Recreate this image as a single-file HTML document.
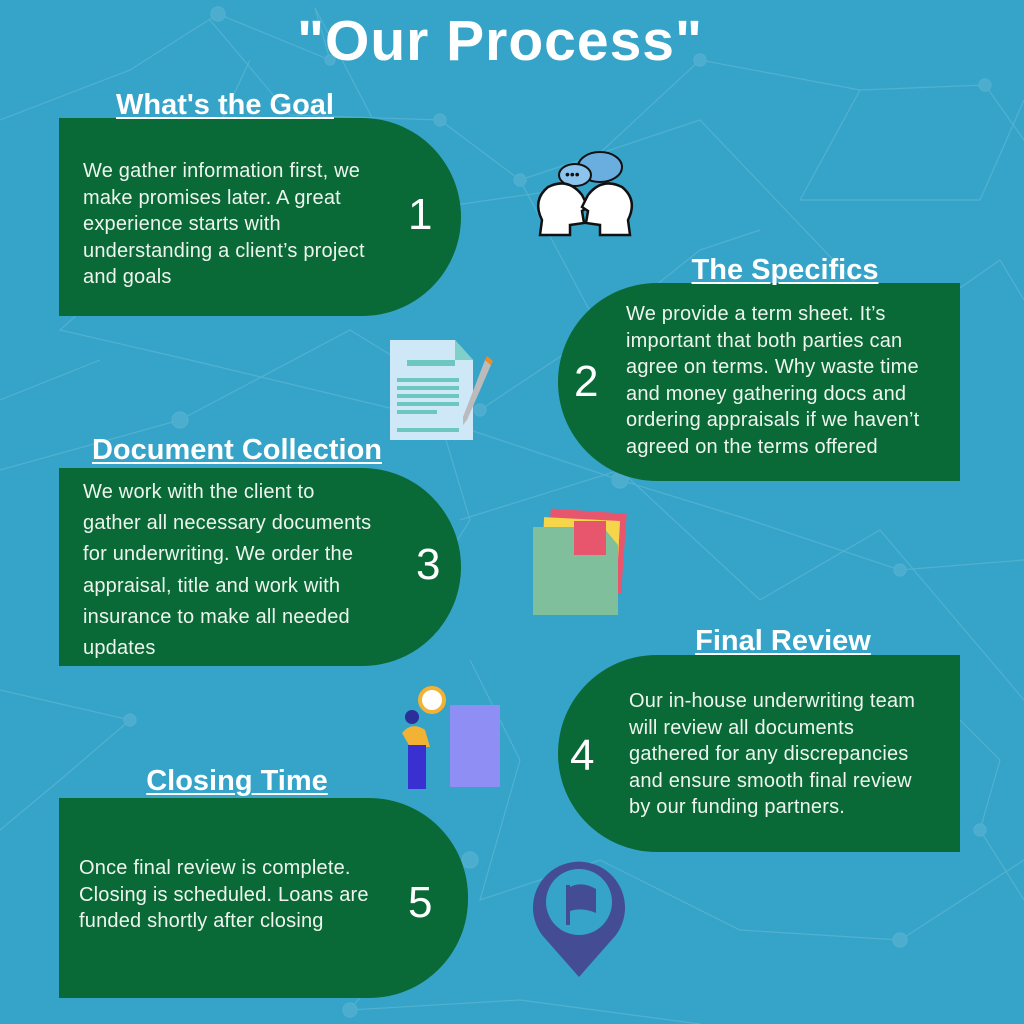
<!DOCTYPE html>
<html><head><style>
body{margin:0;width:1024px;height:1024px;overflow:hidden;background:#36a4c8;font-family:"Liberation Sans",sans-serif;position:relative}
.box{position:absolute;background:#0a6a37;color:#eef5ee;}
.l{border-radius:0 99px 99px 0}
.r{border-radius:99px 0 0 99px}
.t{position:absolute;font-size:20px;line-height:26.5px;color:#eef5ee;white-space:nowrap;letter-spacing:0.2px;z-index:2}
.n{position:absolute;font-size:44px;color:#fff;z-index:2}
.h{position:absolute;font-weight:bold;font-size:29px;color:#fff;text-decoration:underline;text-underline-offset:3px;text-decoration-thickness:2px;white-space:nowrap;transform:translateX(-50%);z-index:3}
</style></head><body>
<svg width="1024" height="1024" style="position:absolute;left:0;top:0" stroke="#7cc3dc" stroke-width="1.2" fill="#6dbbd8" opacity="0.4">
<g fill="none">
<polyline points="0,120 130,70 218,14 330,60 315,8 420,210 560,190 700,60 860,90 985,85 1024,140"/>
<polyline points="210,20 290,115 440,120 520,180 600,330 480,410 350,330 180,420 0,470"/>
<polyline points="250,60 170,230 60,330 190,360 440,420 620,480 750,520 900,570 1024,560"/>
<polyline points="520,180 700,120 900,330 1000,260 1024,300"/>
<polyline points="460,520 620,470 760,600 880,530 1024,700"/>
<polyline points="470,660 520,760 480,900 600,860 740,930 900,940 1024,860"/>
<polyline points="470,860 350,1010 520,1000 700,1024"/>
<polyline points="0,690 130,720 60,780 0,830"/>
<polyline points="960,720 1000,760 980,830 1024,900"/>
<polyline points="860,90 800,200 980,200 1024,100"/>
<polyline points="440,420 470,520 420,600"/>
<polyline points="100,360 0,400"/>
<polyline points="600,330 700,250 760,230"/>
</g>
<circle cx="218" cy="14" r="7"/><circle cx="330" cy="60" r="5"/><circle cx="440" cy="120" r="6"/><circle cx="520" cy="180" r="6"/><circle cx="600" cy="330" r="7"/><circle cx="700" cy="60" r="6"/><circle cx="985" cy="85" r="6"/><circle cx="620" cy="480" r="8"/><circle cx="900" cy="570" r="6"/><circle cx="470" cy="860" r="8"/><circle cx="350" cy="1010" r="7"/><circle cx="900" cy="940" r="7"/><circle cx="980" cy="830" r="6"/><circle cx="130" cy="720" r="6"/><circle cx="180" cy="420" r="8"/><circle cx="480" cy="410" r="6"/>
</svg>

<div style="position:absolute;left:0;width:1000px;top:8px;text-align:center;font-size:57px;font-weight:bold;color:#fff;letter-spacing:1px">"Our Process"</div>

<div class="box l" style="left:59px;top:118px;width:402px;height:198px"></div>
<div class="h" style="left:225px;top:89px">What's the Goal</div>
<div class="t" style="left:83px;top:158px">We gather information first, we<br>make promises later. A great<br>experience starts with<br>understanding a client’s project<br>and goals</div>
<div class="n" style="left:408px;top:190px">1</div>

<div class="box r" style="left:558px;top:283px;width:402px;height:198px"></div>
<div class="h" style="left:785px;top:254px">The Specifics</div>
<div class="t" style="left:626px;top:301px">We provide a term sheet. It’s<br>important that both parties can<br>agree on terms. Why waste time<br>and money gathering docs and<br>ordering appraisals if we haven’t<br>agreed on the terms offered</div>
<div class="n" style="left:574px;top:357px">2</div>

<div class="box l" style="left:59px;top:468px;width:402px;height:198px"></div>
<div class="h" style="left:237px;top:434px">Document Collection</div>
<div class="t" style="left:83px;top:477px;line-height:31.2px">We work with the client to<br>gather all necessary documents<br>for underwriting. We order the<br>appraisal, title and work with<br>insurance to make all needed<br>updates</div>
<div class="n" style="left:416px;top:540px">3</div>

<div class="box r" style="left:558px;top:655px;width:402px;height:197px"></div>
<div class="h" style="left:783px;top:625px">Final Review</div>
<div class="t" style="left:629px;top:688px">Our in-house underwriting team<br>will review all documents<br>gathered for any discrepancies<br>and ensure smooth final review<br>by our funding partners.</div>
<div class="n" style="left:570px;top:731px">4</div>

<div class="box l" style="left:59px;top:798px;width:409px;height:200px"></div>
<div class="h" style="left:237px;top:765px">Closing Time</div>
<div class="t" style="left:79px;top:855px">Once final review is complete.<br>Closing is scheduled. Loans are<br>funded shortly after closing</div>
<div class="n" style="left:408px;top:878px">5</div>

<svg width="110" height="100" style="position:absolute;left:530px;top:145px">
<ellipse cx="70" cy="22" rx="22" ry="15" fill="#6aaee0" stroke="#111" stroke-width="2"/>
<ellipse cx="45" cy="30" rx="16" ry="11" fill="#8cc4ee" stroke="#111" stroke-width="2"/>
<text x="35" y="34" font-size="14" fill="#111">•••</text>
<path d="M10 90 L12 75 Q2 55 18 42 Q38 32 52 50 L58 62 L52 66 L54 78 L40 80 L40 90Z" fill="#fff" stroke="#111" stroke-width="2.5"/>
<path d="M100 90 L98 75 Q108 55 92 42 Q72 32 58 50 L52 62 L58 66 L56 78 L70 80 L70 90Z" fill="#fff" stroke="#111" stroke-width="2.5"/>
</svg>
<svg width="110" height="110" style="position:absolute;left:385px;top:335px">
<path d="M5 5 L70 5 L88 25 L88 105 L5 105Z" fill="#cfe8f7"/>
<path d="M70 5 L88 25 L70 25Z" fill="#7fd0c8"/>
<rect x="22" y="25" width="48" height="6" fill="#6cc7c0"/>
<g fill="#6cc7c0"><rect x="12" y="43" width="62" height="4"/><rect x="12" y="51" width="62" height="4"/><rect x="12" y="59" width="62" height="4"/><rect x="12" y="67" width="62" height="4"/><rect x="12" y="75" width="40" height="4"/><rect x="12" y="93" width="62" height="4"/></g>
<path d="M100 25 L106 30 L82 85 L78 90 L78 82Z" fill="#bbb"/><path d="M100 25 L106 30 L108 26 L102 21Z" fill="#f08a24"/>
</svg>
<svg width="100" height="110" style="position:absolute;left:528px;top:505px">
<rect x="20" y="6" width="76" height="80" fill="#e8566e" transform="rotate(4 58 46)"/>
<rect x="14" y="14" width="76" height="80" fill="#f5d54a" transform="rotate(3 52 54)"/>
<path d="M5 22 L75 22 L90 40 L90 110 L5 110Z" fill="#7fbf9c"/>
<rect x="46" y="16" width="32" height="34" fill="#e8566e"/>
</svg>
<svg width="100" height="115" style="position:absolute;left:400px;top:685px">
<rect x="50" y="20" width="60" height="82" fill="#8f8ef5"/>
<circle cx="32" cy="15" r="12" fill="#fff" stroke="#f2b233" stroke-width="4"/>
<circle cx="12" cy="32" r="7" fill="#2b2f9a"/>
<path d="M2 48 Q12 36 25 45 L30 62 L10 62Z" fill="#f2b233"/>
<rect x="8" y="60" width="18" height="44" fill="#3a2fd0"/>
</svg>
<svg width="100" height="125" style="position:absolute;left:532px;top:855px">
<path d="M47 122 L10 80 A46 46 0 1 1 84 80Z" fill="#444c94"/>
<circle cx="47" cy="47" r="33" fill="#36a4c8"/>
<rect x="34" y="30" width="4" height="40" fill="#444c94"/>
<path d="M38 32 Q50 26 64 34 L64 58 Q50 52 38 56Z" fill="#444c94"/>
</svg>
</body></html>
